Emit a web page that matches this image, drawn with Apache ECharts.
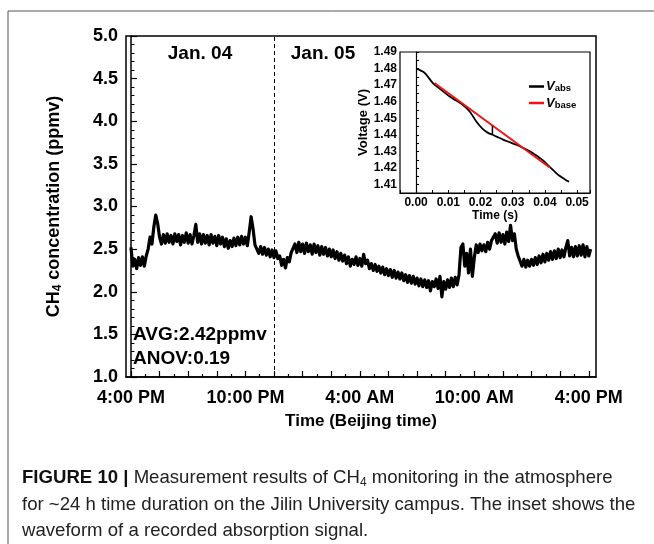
<!DOCTYPE html>
<html>
<head>
<meta charset="utf-8">
<script src="https://cdn.jsdelivr.net/npm/echarts@6/dist/echarts.min.js"></script>
<style>
  html, body { margin: 0; padding: 0; background: #fff; }
  #chart { width: 654px; height: 544px; }
</style>
</head>
<body>
<div id="chart"></div>
<script>
// main trace: CH4 (ppmv), one reading every 0.1 h from 4:00 PM
var sampleStepH = 0.1;
var ch4Values = [
  2.52, 2.30, 2.38, 2.27, 2.40, 2.31, 2.41, 2.30, 2.42, 2.50,
  2.64, 2.56, 2.76, 2.90, 2.80, 2.64, 2.56, 2.67, 2.57, 2.68,
  2.58, 2.66, 2.56, 2.68, 2.59, 2.67, 2.55, 2.66, 2.58, 2.69,
  2.57, 2.67, 2.56, 2.66, 2.79, 2.58, 2.68, 2.56, 2.67, 2.57,
  2.66, 2.55, 2.67, 2.57, 2.65, 2.54, 2.66, 2.56, 2.64, 2.53,
  2.62, 2.51, 2.60, 2.53, 2.63, 2.54, 2.64, 2.55, 2.65, 2.56,
  2.64, 2.54, 2.70, 2.88, 2.74, 2.55, 2.50, 2.45, 2.53, 2.44,
  2.52, 2.43, 2.50, 2.41, 2.49, 2.40, 2.48, 2.39, 2.42, 2.31,
  2.38, 2.28, 2.40, 2.35, 2.46, 2.44, 2.56, 2.46, 2.58, 2.47,
  2.56, 2.45, 2.57, 2.47, 2.55, 2.44, 2.56, 2.46, 2.54, 2.43,
  2.53, 2.44, 2.52, 2.42, 2.50, 2.41, 2.49, 2.39, 2.47, 2.37,
  2.45, 2.36, 2.43, 2.33, 2.41, 2.30, 2.38, 2.32, 2.41, 2.31,
  2.39, 2.30, 2.44, 2.33, 2.37, 2.27, 2.33, 2.25, 2.32, 2.24,
  2.30, 2.22, 2.29, 2.20, 2.27, 2.19, 2.26, 2.17, 2.25, 2.16,
  2.23, 2.15, 2.22, 2.13, 2.20, 2.11, 2.19, 2.10, 2.18, 2.09,
  2.16, 2.07, 2.15, 2.06, 2.14, 2.05, 2.13, 2.01, 2.12, 2.06,
  2.15, 2.04, 2.18, 1.94, 2.12, 2.03, 2.14, 2.05, 2.16, 2.06,
  2.17, 2.08, 2.20, 2.52, 2.56, 2.30, 2.45, 2.22, 2.50, 2.18,
  2.40, 2.55, 2.46, 2.56, 2.48, 2.55, 2.47, 2.58, 2.50, 2.60,
  2.58, 2.68, 2.57, 2.69, 2.58, 2.67, 2.56, 2.70, 2.59, 2.78,
  2.60, 2.68, 2.50, 2.42, 2.36, 2.30, 2.38, 2.29, 2.37, 2.30,
  2.38, 2.31, 2.40, 2.32, 2.42, 2.34, 2.44, 2.35, 2.45, 2.37,
  2.47, 2.38, 2.48, 2.39, 2.50, 2.40, 2.49, 2.41, 2.52, 2.60,
  2.42, 2.52, 2.41, 2.53, 2.42, 2.54, 2.43, 2.55, 2.41, 2.53,
  2.42, 2.50
];
var xLabelHours = [0, 6, 12, 18, 24];
var xTickLabels = ['4:00 PM', '10:00 PM', '4:00 AM', '10:00 AM', '4:00 PM'];
var dayBoundaryH = 7.5;

// inset: absorption waveform
var absTime = [0, 0.0026, 0.0052, 0.0078, 0.0104, 0.0125, 0.0145, 0.0167, 0.0187, 0.0205, 0.0222, 0.0237,
  0.0250, 0.0270, 0.0290, 0.0311, 0.0332, 0.0353, 0.0370, 0.0384, 0.0398, 0.0410, 0.0428, 0.0444, 0.0460, 0.0475];
var absVolt = [1.4800, 1.4775, 1.4713, 1.4672, 1.4632, 1.4607, 1.4582, 1.4540, 1.4481, 1.4440, 1.4414, 1.4401,
  1.4390, 1.4372, 1.4357, 1.4341, 1.4322, 1.4301, 1.4280, 1.4261, 1.4240, 1.4216, 1.4183, 1.4155, 1.4135, 1.4118];
var baseTime = [0.0057, 0.0415];
var baseVolt = [1.4713, 1.4204];
var depthTime = [0.0237, 0.0237];
var depthVolt = [1.4401, 1.4456];

var FONT = '"Liberation Sans", Arial, sans-serif';

function pairs(xs, ys) {
  return xs.map(function (x, i) { return [x, ys[i]]; });
}
var ch4Data = ch4Values.map(function (v, i) { return [+(i * sampleStepH).toFixed(2), v]; });

// tick marks every 1.5 h, short ones in between
var majorTicks = [], minorTicks = [];
for (var h = 0; h <= 24.001; h += 1.5) {
  majorTicks.push(h);
  if (h + 0.75 < 24.38) minorTicks.push(h + 0.75);
}

function onHundredth(v) {
  return Math.round(v * 1000) % 10 === 0 ? v.toFixed(2) : '';
}

var chart = echarts.init(document.getElementById('chart'), null, { renderer: 'canvas' });

var option = {
  animation: false,
  backgroundColor: '#fff',
  grid: [
    { left: 126, top: 36, width: 470, height: 341, show: true, borderColor: '#000', borderWidth: 1.5 },
    { left: 400, top: 52, width: 190, height: 141, show: true, borderColor: '#000', borderWidth: 1.2, backgroundColor: '#fff' }
  ],
  legend: {
    data: ['abs', 'base'],
    left: 524, top: 75,
    orient: 'vertical',
    icon: 'rect',
    itemWidth: 15, itemHeight: 2.5, itemGap: 3,
    formatter: function (name) { return '{v|V}{s|' + name + '}'; },
    textStyle: {
      padding: [0, 0, 0, -3],
      rich: {
        v: { fontFamily: FONT, fontStyle: 'italic', fontWeight: 'bold', fontSize: 13, lineHeight: 14, color: '#000' },
        s: { fontFamily: FONT, fontWeight: 'bold', fontSize: 9.5, lineHeight: 9, verticalAlign: 'bottom', color: '#000' }
      }
    }
  },
  xAxis: [
    {
      gridIndex: 0, type: 'value', min: -0.26, max: 24.38, position: 'bottom',
      axisLine: { lineStyle: { color: '#000', width: 1.5 } },
      axisTick: { inside: true, length: 6, customValues: majorTicks, lineStyle: { color: '#000', width: 1.2 } },
      axisLabel: {
        customValues: xLabelHours,
        formatter: function (v) { return xTickLabels[xLabelHours.indexOf(Math.round(v))]; },
        fontFamily: FONT, fontSize: 18, fontWeight: 'bold', color: '#000', margin: 12
      },
      splitLine: { show: false },
      name: 'Time (Beijing time)', nameLocation: 'middle', nameGap: 36,
      nameTextStyle: { fontFamily: FONT, fontSize: 17, fontWeight: 'bold', color: '#000' }
    },
    {
      gridIndex: 0, type: 'value', min: -0.26, max: 24.38, position: 'bottom',
      axisLine: { show: false },
      axisTick: { inside: true, length: 3, customValues: minorTicks, lineStyle: { color: '#000', width: 1.2 } },
      axisLabel: { show: false },
      splitLine: { show: false }
    },
    {
      gridIndex: 1, type: 'value', min: -0.005, max: 0.054, interval: 0.005,
      axisLine: { lineStyle: { color: '#000', width: 1.2 } },
      axisTick: { inside: true, length: 3, lineStyle: { color: '#000' } },
      axisLabel: { formatter: onHundredth, fontFamily: FONT, fontSize: 12, fontWeight: 'bold', color: '#000', margin: 4 },
      splitLine: { show: false },
      name: 'Time (s)', nameLocation: 'middle', nameGap: 15,
      nameTextStyle: { fontFamily: FONT, fontSize: 12, fontWeight: 'bold', color: '#000' }
    }
  ],
  yAxis: [
    {
      gridIndex: 0, type: 'value', min: 1, max: 5, interval: 0.5,
      axisLine: { show: true, lineStyle: { color: '#000', width: 1.5 } },
      axisTick: { inside: true, length: 6, lineStyle: { color: '#000', width: 1.2 } },
      minorTick: { show: true, splitNumber: 5, length: 3.5, lineStyle: { color: '#000', width: 1 } },
      axisLabel: { formatter: function (v) { return v.toFixed(1); }, fontFamily: FONT, fontSize: 18, fontWeight: 'bold', color: '#000', margin: 8 },
      splitLine: { show: false },
      minorSplitLine: { show: false },
      name: '{n|CH}{s|4}{n| concentration (ppmv)}', nameLocation: 'middle', nameGap: 62, nameRotate: 90,
      nameTextStyle: {
        rich: {
          n: { fontFamily: FONT, fontSize: 18, fontWeight: 'bold', color: '#000', lineHeight: 20 },
          s: { fontFamily: FONT, fontSize: 12, fontWeight: 'bold', color: '#000', lineHeight: 12, verticalAlign: 'bottom' }
        }
      }
    },
    {
      gridIndex: 1, type: 'value', min: 1.405, max: 1.49, interval: 0.005,
      axisLine: { show: true, lineStyle: { color: '#000', width: 1.2 } },
      axisTick: { inside: true, length: 3, lineStyle: { color: '#000' } },
      axisLabel: { formatter: onHundredth, fontFamily: FONT, fontSize: 12, fontWeight: 'bold', color: '#000', margin: 3 },
      splitLine: { show: false },
      name: 'Voltage (V)', nameLocation: 'middle', nameGap: 29, nameRotate: 90,
      nameTextStyle: { fontFamily: FONT, fontSize: 13, fontWeight: 'bold', color: '#000' }
    }
  ],
  series: [
    {
      type: 'line', xAxisIndex: 0, yAxisIndex: 0,
      data: ch4Data, showSymbol: false, symbol: 'none',
      lineStyle: { color: '#000', width: 3.2, join: 'round' },
      markLine: {
        silent: true, symbol: ['none', 'none'],
        label: { show: false },
        lineStyle: { color: '#000', width: 1, type: [4, 3] },
        data: [{ xAxis: dayBoundaryH }]
      }
    },
    {
      name: 'abs', type: 'line', xAxisIndex: 2, yAxisIndex: 1,
      data: pairs(absTime, absVolt), showSymbol: false, symbol: 'none', smooth: 0.3,
      color: '#000', lineStyle: { color: '#000', width: 1.8 }, z: 3
    },
    {
      name: 'base', type: 'line', xAxisIndex: 2, yAxisIndex: 1,
      data: pairs(baseTime, baseVolt), showSymbol: false, symbol: 'none',
      color: '#f01414', lineStyle: { color: '#f01414', width: 2 }, z: 4
    },
    {
      type: 'line', xAxisIndex: 2, yAxisIndex: 1,
      data: pairs(depthTime, depthVolt), showSymbol: false, symbol: 'none',
      lineStyle: { color: '#000', width: 1.5 }, z: 5
    }
  ],
  graphic: [
    { type: 'rect', shape: { x: 8, y: 11, width: 700, height: 600 }, style: { fill: 'none', stroke: '#555', lineWidth: 1 }, silent: true },
    { type: 'text', x: 200, y: 54, style: { text: 'Jan. 04', font: 'bold 19px ' + FONT, fill: '#000', align: 'center', verticalAlign: 'middle' } },
    { type: 'text', x: 323, y: 54, style: { text: 'Jan. 05', font: 'bold 19px ' + FONT, fill: '#000', align: 'center', verticalAlign: 'middle' } },
    { type: 'text', x: 133, y: 335, style: { text: 'AVG:2.42ppmv', font: 'bold 19px ' + FONT, fill: '#000', align: 'left', verticalAlign: 'middle' } },
    { type: 'text', x: 133, y: 359, style: { text: 'ANOV:0.19', font: 'bold 19px ' + FONT, fill: '#000', align: 'left', verticalAlign: 'middle' } },
    {
      type: 'text', x: 22, y: 478,
      style: {
        text: '{b|FIGURE 10 |}{t| Measurement results of CH}{s|4}{t| monitoring in the atmosphere}',
        align: 'left', verticalAlign: 'middle',
        rich: {
          b: { fontFamily: FONT, fontSize: 18.6, fontWeight: 'bold', fill: '#111', lineHeight: 22 },
          t: { fontFamily: FONT, fontSize: 18.6, fill: '#222', lineHeight: 22 },
          s: { fontFamily: FONT, fontSize: 12, fill: '#222', lineHeight: 14, verticalAlign: 'bottom' }
        }
      }
    },
    { type: 'text', x: 22, y: 505, style: { text: 'for ~24 h time duration on the Jilin University campus. The inset shows the', font: '18.6px ' + FONT, fill: '#222', align: 'left', verticalAlign: 'middle' } },
    { type: 'text', x: 22, y: 531, style: { text: 'waveform of a recorded absorption signal.', font: '18.6px ' + FONT, fill: '#222', align: 'left', verticalAlign: 'middle' } }
  ]
};

chart.setOption(option);
</script>
</body>
</html>
